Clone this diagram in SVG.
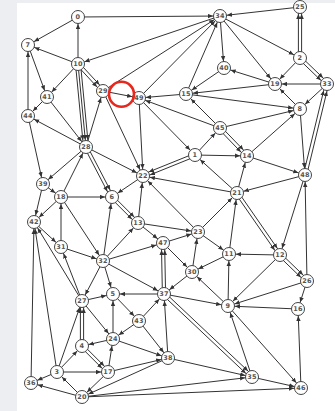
<svg xmlns="http://www.w3.org/2000/svg" width="335" height="411" viewBox="0 0 335 411">
<style>
.e line{stroke:#333;stroke-width:1;marker-end:url(#a)}
.n circle{fill:#fff;stroke:#444;stroke-width:1}
.n text{font-family:"DejaVu Sans",sans-serif;font-weight:bold;font-size:6.5px;fill:#555;text-anchor:middle;dominant-baseline:central;letter-spacing:0.3px}
</style>
<defs>
<marker id="a" markerUnits="userSpaceOnUse" markerWidth="5" markerHeight="5" viewBox="0 0 5 5" refX="12" refY="2.5" orient="auto"><path d="M0,0.3 L5,2.5 L0,4.7 z" fill="#333"/></marker>
</defs>
<rect width="335" height="411" fill="#eceef1"/>
<rect x="17" y="3" width="318" height="408" fill="#fff"/>
<g id="connectors" class="e">
<line x1="78" y1="17" x2="28" y2="45"/>
<line x1="78" y1="64" x2="78" y2="17"/>
<line x1="78" y1="17" x2="220" y2="16"/>
<line x1="78" y1="64" x2="28" y2="45"/>
<line x1="220" y1="16" x2="78" y2="64"/>
<line x1="78" y1="64" x2="47" y2="97"/>
<line x1="28" y1="45" x2="47" y2="97"/>
<line x1="28" y1="116" x2="28" y2="45"/>
<line x1="47" y1="97" x2="28" y2="116"/>
<line x1="78" y1="64" x2="86" y2="147"/>
<line x1="80.5" y1="63.8" x2="88.5" y2="146.8"/>
<line x1="75.5" y1="64.2" x2="83.5" y2="147.2"/>
<line x1="79.2" y1="62.9" x2="104.2" y2="89.9"/>
<line x1="76.8" y1="65.1" x2="101.8" y2="92.1"/>
<line x1="103" y1="91" x2="139" y2="98"/>
<line x1="86" y1="147" x2="103" y2="91"/>
<line x1="103" y1="91" x2="143" y2="176"/>
<line x1="139" y1="98" x2="143" y2="176"/>
<line x1="103" y1="91" x2="220" y2="16"/>
<line x1="139" y1="98" x2="220" y2="16"/>
<line x1="186" y1="94" x2="139" y2="98"/>
<line x1="220" y1="128" x2="139" y2="98"/>
<line x1="139" y1="98" x2="195" y2="155"/>
<line x1="237" y1="193" x2="143" y2="176"/>
<line x1="198" y1="232" x2="143" y2="176"/>
<line x1="138" y1="223" x2="198" y2="232"/>
<line x1="237" y1="193" x2="195" y2="155"/>
<line x1="186" y1="94" x2="220" y2="16"/>
<line x1="300" y1="7" x2="220" y2="16"/>
<line x1="220" y1="16" x2="300" y2="58"/>
<line x1="301.6" y1="58" x2="301.6" y2="7"/>
<line x1="298.4" y1="58" x2="298.4" y2="7"/>
<line x1="301.1" y1="56.8" x2="328.1" y2="82.8"/>
<line x1="298.9" y1="59.2" x2="325.9" y2="85.2"/>
<line x1="300" y1="58" x2="275" y2="84"/>
<line x1="327" y1="84" x2="275" y2="84"/>
<line x1="327" y1="84" x2="300" y2="109"/>
<line x1="300" y1="109" x2="275" y2="84"/>
<line x1="275" y1="84" x2="224" y2="68"/>
<line x1="224" y1="68" x2="186" y2="94"/>
<line x1="275" y1="84" x2="186" y2="94"/>
<line x1="186" y1="94" x2="300" y2="109"/>
<line x1="220" y1="128" x2="300" y2="109"/>
<line x1="220" y1="128" x2="186" y2="94"/>
<line x1="220" y1="16" x2="275" y2="84"/>
<line x1="220" y1="16" x2="224" y2="68"/>
<line x1="86" y1="147" x2="43" y2="184"/>
<line x1="28" y1="116" x2="43" y2="184"/>
<line x1="47" y1="97" x2="86" y2="147"/>
<line x1="86" y1="147" x2="28" y2="116"/>
<line x1="61" y1="197" x2="86" y2="147"/>
<line x1="86" y1="147" x2="143" y2="176"/>
<line x1="87.4" y1="146.3" x2="113.4" y2="196.3"/>
<line x1="84.6" y1="147.7" x2="110.6" y2="197.7"/>
<line x1="43" y1="184" x2="61" y2="197"/>
<line x1="43" y1="184" x2="34" y2="222"/>
<line x1="61" y1="197" x2="112" y2="197"/>
<line x1="61" y1="197" x2="34" y2="222"/>
<line x1="61" y1="247" x2="61" y2="197"/>
<line x1="61" y1="197" x2="103" y2="261"/>
<line x1="34" y1="222" x2="61" y2="247"/>
<line x1="61" y1="247" x2="103" y2="261"/>
<line x1="143" y1="176" x2="112" y2="197"/>
<line x1="113.1" y1="195.9" x2="139.1" y2="221.9"/>
<line x1="110.9" y1="198.1" x2="136.9" y2="224.1"/>
<line x1="138" y1="223" x2="143" y2="176"/>
<line x1="103" y1="261" x2="112" y2="197"/>
<line x1="103" y1="261" x2="138" y2="223"/>
<line x1="138" y1="223" x2="163" y2="243"/>
<line x1="103" y1="261" x2="163" y2="243"/>
<line x1="195.6" y1="156.5" x2="143.6" y2="177.5"/>
<line x1="194.4" y1="153.5" x2="142.4" y2="174.5"/>
<line x1="195" y1="155" x2="220" y2="128"/>
<line x1="221.2" y1="126.9" x2="248.2" y2="154.9"/>
<line x1="218.8" y1="129.1" x2="245.8" y2="157.1"/>
<line x1="195" y1="155" x2="247" y2="156"/>
<line x1="247" y1="156" x2="300" y2="109"/>
<line x1="247" y1="156" x2="305" y2="175"/>
<line x1="237" y1="193" x2="247" y2="156"/>
<line x1="305" y1="175" x2="237" y2="193"/>
<line x1="300" y1="109" x2="305" y2="175"/>
<line x1="306.6" y1="175.4" x2="328.6" y2="84.4"/>
<line x1="303.4" y1="174.6" x2="325.4" y2="83.6"/>
<line x1="305" y1="175" x2="280" y2="255"/>
<line x1="238.3" y1="192.1" x2="281.3" y2="254.1"/>
<line x1="235.7" y1="193.9" x2="278.7" y2="255.9"/>
<line x1="281.1" y1="253.8" x2="308.1" y2="279.8"/>
<line x1="278.9" y1="256.2" x2="305.9" y2="282.2"/>
<line x1="280" y1="255" x2="229" y2="254"/>
<line x1="229" y1="254" x2="237" y2="193"/>
<line x1="198" y1="232" x2="237" y2="193"/>
<line x1="198" y1="232" x2="229" y2="254"/>
<line x1="163" y1="243" x2="198" y2="232"/>
<line x1="192" y1="272" x2="198" y2="232"/>
<line x1="229" y1="254" x2="192" y2="272"/>
<line x1="163" y1="243" x2="192" y2="272"/>
<line x1="192" y1="272" x2="164" y2="294"/>
<line x1="165.6" y1="294" x2="164.6" y2="243"/>
<line x1="162.4" y1="294" x2="161.4" y2="243"/>
<line x1="164" y1="294" x2="113" y2="294"/>
<line x1="164" y1="294" x2="228" y2="306"/>
<line x1="228" y1="306" x2="192" y2="272"/>
<line x1="228" y1="306" x2="229" y2="254"/>
<line x1="280" y1="255" x2="228" y2="306"/>
<line x1="307" y1="281" x2="228" y2="306"/>
<line x1="298" y1="309" x2="228" y2="306"/>
<line x1="307" y1="281" x2="298" y2="309"/>
<line x1="307" y1="281" x2="305" y2="175"/>
<line x1="301" y1="388" x2="298" y2="309"/>
<line x1="228" y1="306" x2="301" y2="388"/>
<line x1="252" y1="377" x2="228" y2="306"/>
<line x1="252" y1="377" x2="301" y2="388"/>
<line x1="165.1" y1="292.8" x2="253.1" y2="375.8"/>
<line x1="162.9" y1="295.2" x2="250.9" y2="378.2"/>
<line x1="168" y1="358" x2="252" y2="377"/>
<line x1="82" y1="397" x2="252" y2="377"/>
<line x1="82" y1="397" x2="301" y2="388"/>
<line x1="168" y1="358" x2="164" y2="294"/>
<line x1="139" y1="321" x2="164" y2="294"/>
<line x1="139" y1="321" x2="168" y2="358"/>
<line x1="113" y1="294" x2="139" y2="321"/>
<line x1="139" y1="321" x2="113" y2="339"/>
<line x1="113" y1="339" x2="113" y2="294"/>
<line x1="82" y1="301" x2="113" y2="294"/>
<line x1="82" y1="301" x2="113" y2="339"/>
<line x1="113" y1="339" x2="82" y2="346"/>
<line x1="113" y1="339" x2="168" y2="358"/>
<line x1="108" y1="372" x2="113" y2="339"/>
<line x1="108" y1="372" x2="168" y2="358"/>
<line x1="168" y1="358" x2="82" y2="397"/>
<line x1="108" y1="372" x2="82" y2="397"/>
<line x1="83.1" y1="344.9" x2="109.1" y2="370.9"/>
<line x1="80.9" y1="347.1" x2="106.9" y2="373.1"/>
<line x1="83.6" y1="346" x2="83.6" y2="301"/>
<line x1="80.4" y1="346" x2="80.4" y2="301"/>
<line x1="57" y1="372" x2="82" y2="346"/>
<line x1="57" y1="372" x2="108" y2="372"/>
<line x1="57" y1="372" x2="82" y2="301"/>
<line x1="57" y1="372" x2="31" y2="383"/>
<line x1="82" y1="397" x2="57" y2="372"/>
<line x1="82" y1="397" x2="31" y2="383"/>
<line x1="31" y1="383" x2="34" y2="222"/>
<line x1="57" y1="372" x2="34" y2="222"/>
<line x1="82" y1="301" x2="34" y2="222"/>
<line x1="82" y1="301" x2="61" y2="247"/>
<line x1="103" y1="261" x2="82" y2="301"/>
<line x1="103" y1="261" x2="113" y2="294"/>
<line x1="103" y1="261" x2="164" y2="294"/>
</g>
<g id="n0" class="n"><circle cx="78" cy="17" r="6.5"/><text x="78" y="17">0</text></g>
<g id="n1" class="n"><circle cx="195" cy="155" r="6.5"/><text x="195" y="155">1</text></g>
<g id="n2" class="n"><circle cx="300" cy="58" r="6.5"/><text x="300" y="58">2</text></g>
<g id="n3" class="n"><circle cx="57" cy="372" r="6.5"/><text x="57" y="372">3</text></g>
<g id="n4" class="n"><circle cx="82" cy="346" r="6.5"/><text x="82" y="346">4</text></g>
<g id="n5" class="n"><circle cx="113" cy="294" r="6.5"/><text x="113" y="294">5</text></g>
<g id="n6" class="n"><circle cx="112" cy="197" r="6.5"/><text x="112" y="197">6</text></g>
<g id="n7" class="n"><circle cx="28" cy="45" r="6.5"/><text x="28" y="45">7</text></g>
<g id="n8" class="n"><circle cx="300" cy="109" r="6.5"/><text x="300" y="109">8</text></g>
<g id="n9" class="n"><circle cx="228" cy="306" r="6.5"/><text x="228" y="306">9</text></g>
<g id="n10" class="n"><circle cx="78" cy="64" r="6.5"/><text x="78" y="64">10</text></g>
<g id="n11" class="n"><circle cx="229" cy="254" r="6.5"/><text x="229" y="254">11</text></g>
<g id="n12" class="n"><circle cx="280" cy="255" r="6.5"/><text x="280" y="255">12</text></g>
<g id="n13" class="n"><circle cx="138" cy="223" r="6.5"/><text x="138" y="223">13</text></g>
<g id="n14" class="n"><circle cx="247" cy="156" r="6.5"/><text x="247" y="156">14</text></g>
<g id="n15" class="n"><circle cx="186" cy="94" r="6.5"/><text x="186" y="94">15</text></g>
<g id="n16" class="n"><circle cx="298" cy="309" r="6.5"/><text x="298" y="309">16</text></g>
<g id="n17" class="n"><circle cx="108" cy="372" r="6.5"/><text x="108" y="372">17</text></g>
<g id="n18" class="n"><circle cx="61" cy="197" r="6.5"/><text x="61" y="197">18</text></g>
<g id="n19" class="n"><circle cx="275" cy="84" r="6.5"/><text x="275" y="84">19</text></g>
<g id="n20" class="n"><circle cx="82" cy="397" r="6.5"/><text x="82" y="397">20</text></g>
<g id="n21" class="n"><circle cx="237" cy="193" r="6.5"/><text x="237" y="193">21</text></g>
<g id="n22" class="n"><circle cx="143" cy="176" r="6.5"/><text x="143" y="176">22</text></g>
<g id="n23" class="n"><circle cx="198" cy="232" r="6.5"/><text x="198" y="232">23</text></g>
<g id="n24" class="n"><circle cx="113" cy="339" r="6.5"/><text x="113" y="339">24</text></g>
<g id="n25" class="n"><circle cx="300" cy="7" r="6.5"/><text x="300" y="7">25</text></g>
<g id="n26" class="n"><circle cx="307" cy="281" r="6.5"/><text x="307" y="281">26</text></g>
<g id="n27" class="n"><circle cx="82" cy="301" r="6.5"/><text x="82" y="301">27</text></g>
<g id="n28" class="n"><circle cx="86" cy="147" r="6.5"/><text x="86" y="147">28</text></g>
<g id="n29" class="n"><circle cx="103" cy="91" r="6.5"/><text x="103" y="91">29</text></g>
<g id="n30" class="n"><circle cx="192" cy="272" r="6.5"/><text x="192" y="272">30</text></g>
<g id="n31" class="n"><circle cx="61" cy="247" r="6.5"/><text x="61" y="247">31</text></g>
<g id="n32" class="n"><circle cx="103" cy="261" r="6.5"/><text x="103" y="261">32</text></g>
<g id="n33" class="n"><circle cx="327" cy="84" r="6.5"/><text x="327" y="84">33</text></g>
<g id="n34" class="n"><circle cx="220" cy="16" r="6.5"/><text x="220" y="16">34</text></g>
<g id="n35" class="n"><circle cx="252" cy="377" r="6.5"/><text x="252" y="377">35</text></g>
<g id="n36" class="n"><circle cx="31" cy="383" r="6.5"/><text x="31" y="383">36</text></g>
<g id="n37" class="n"><circle cx="164" cy="294" r="6.5"/><text x="164" y="294">37</text></g>
<g id="n38" class="n"><circle cx="168" cy="358" r="6.5"/><text x="168" y="358">38</text></g>
<g id="n39" class="n"><circle cx="43" cy="184" r="6.5"/><text x="43" y="184">39</text></g>
<g id="n40" class="n"><circle cx="224" cy="68" r="6.5"/><text x="224" y="68">40</text></g>
<g id="n41" class="n"><circle cx="47" cy="97" r="6.5"/><text x="47" y="97">41</text></g>
<g id="n42" class="n"><circle cx="34" cy="222" r="6.5"/><text x="34" y="222">42</text></g>
<g id="n43" class="n"><circle cx="139" cy="321" r="6.5"/><text x="139" y="321">43</text></g>
<g id="n44" class="n"><circle cx="28" cy="116" r="6.5"/><text x="28" y="116">44</text></g>
<g id="n45" class="n"><circle cx="220" cy="128" r="6.5"/><text x="220" y="128">45</text></g>
<g id="n46" class="n"><circle cx="301" cy="388" r="6.5"/><text x="301" y="388">46</text></g>
<g id="n47" class="n"><circle cx="163" cy="243" r="6.5"/><text x="163" y="243">47</text></g>
<g id="n48" class="n"><circle cx="305" cy="175" r="6.5"/><text x="305" y="175">48</text></g>
<g id="n49" class="n"><circle cx="139" cy="98" r="6.5"/><text x="139" y="98">49</text></g>
<circle id="highlight" cx="121.5" cy="94.3" r="12.5" fill="none" stroke="#e8281c" stroke-width="2.6"/>
</svg>
